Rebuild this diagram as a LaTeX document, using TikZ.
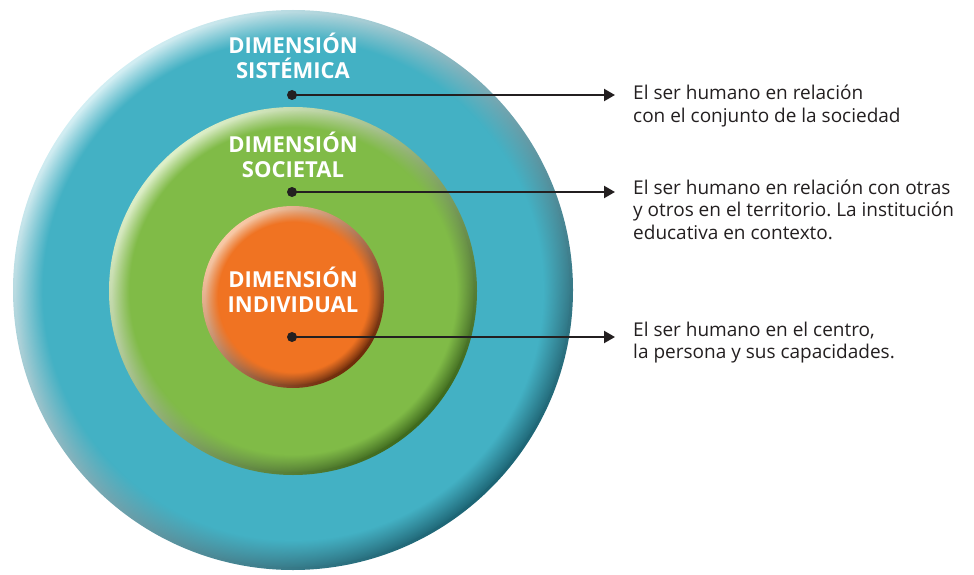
\documentclass[tikz,border=0pt]{standalone}
\usepackage{fontspec}
\setmainfont{Open Sans}
\usetikzlibrary{arrows.meta,fadings}
\frenchspacing

\definecolor{sistemica}{HTML}{43B1C4}
\definecolor{sistemicaluz}{HTML}{D2EEF3}
\definecolor{sistemicasombra}{HTML}{1C6575}
\definecolor{societal}{HTML}{80BB47}
\definecolor{societalluz}{HTML}{DDEFC8}
\definecolor{societalsombra}{HTML}{3E6A1C}
\definecolor{individual}{HTML}{F07322}
\definecolor{individualluz}{HTML}{F9C9A6}
\definecolor{individualsombra}{HTML}{6E2A08}
\definecolor{texto}{HTML}{231F20}

\begin{document}
\begin{tikzpicture}[x=1pt, y=-1pt,
    dim/.style={text=white, font=\fontsize{22}{24.5}\selectfont\bfseries, align=center},
    desc/.style={text=texto, font=\fontsize{19}{22.7}\selectfont, align=left, inner sep=0pt, anchor=base west},
    dot/.style={circle, fill=texto, inner sep=0pt, minimum size=10pt},
    conector/.style={draw=texto, line width=2.2pt, -{Triangle[length=11pt, width=12pt]}}]
    \useasboundingbox (0,0) rectangle (974,575);

    % outer ring
    \shade[shading=axis, top color=sistemicaluz, bottom color=sistemicasombra, shading angle=45] (293,290) circle (280);
    \fill[sistemica, path fading=circle with fuzzy edge 10 percent] (293,290) circle (277);
    % middle ring
    \shade[shading=axis, top color=societalluz, bottom color=societalsombra, shading angle=45] (293,291) circle (184);
    \fill[societal, path fading=circle with fuzzy edge 10 percent] (293,291) circle (181);
    % inner disc
    \shade[shading=axis, top color=individualluz, bottom color=individualsombra, shading angle=45] (293,297) circle (91);
    \fill[individual, path fading=circle with fuzzy edge 15 percent] (293,297) circle (88);

    \node[dim] (sis) at (293,56) {DIMENSIÓN\\SISTÉMICA};
    \node[dim] (soc) at (293,155) {DIMENSIÓN\\SOCIETAL};
    \node[dim] (ind) at (293,290) {DIMENSIÓN\\INDIVIDUAL};

    \node[dot] (d1) at (292,95) {};
    \node[dot] (d2) at (292,192) {};
    \node[dot] (d3) at (292,337) {};
    \coordinate (e1) at (615,95);
    \coordinate (e2) at (615,192);
    \coordinate (e3) at (615,337);
    \draw[conector] (d1.center) -- (e1);
    \draw[conector] (d2.center) -- (e2);
    \draw[conector] (d3.center) -- (e3);

    % base anchor sits on the last line
    \node[desc] (t1) at (633,122.7) {El ser humano en relación\\con el conjunto de la sociedad};
    \node[desc] (t2) at (633,239.4) {El ser humano en relación con otras\\y otros en el territorio. La institución\\educativa en contexto.};
    \node[desc] (t3) at (633,358.7) {El ser humano en el centro,\\la persona y sus capacidades.};
\end{tikzpicture}
\end{document}
